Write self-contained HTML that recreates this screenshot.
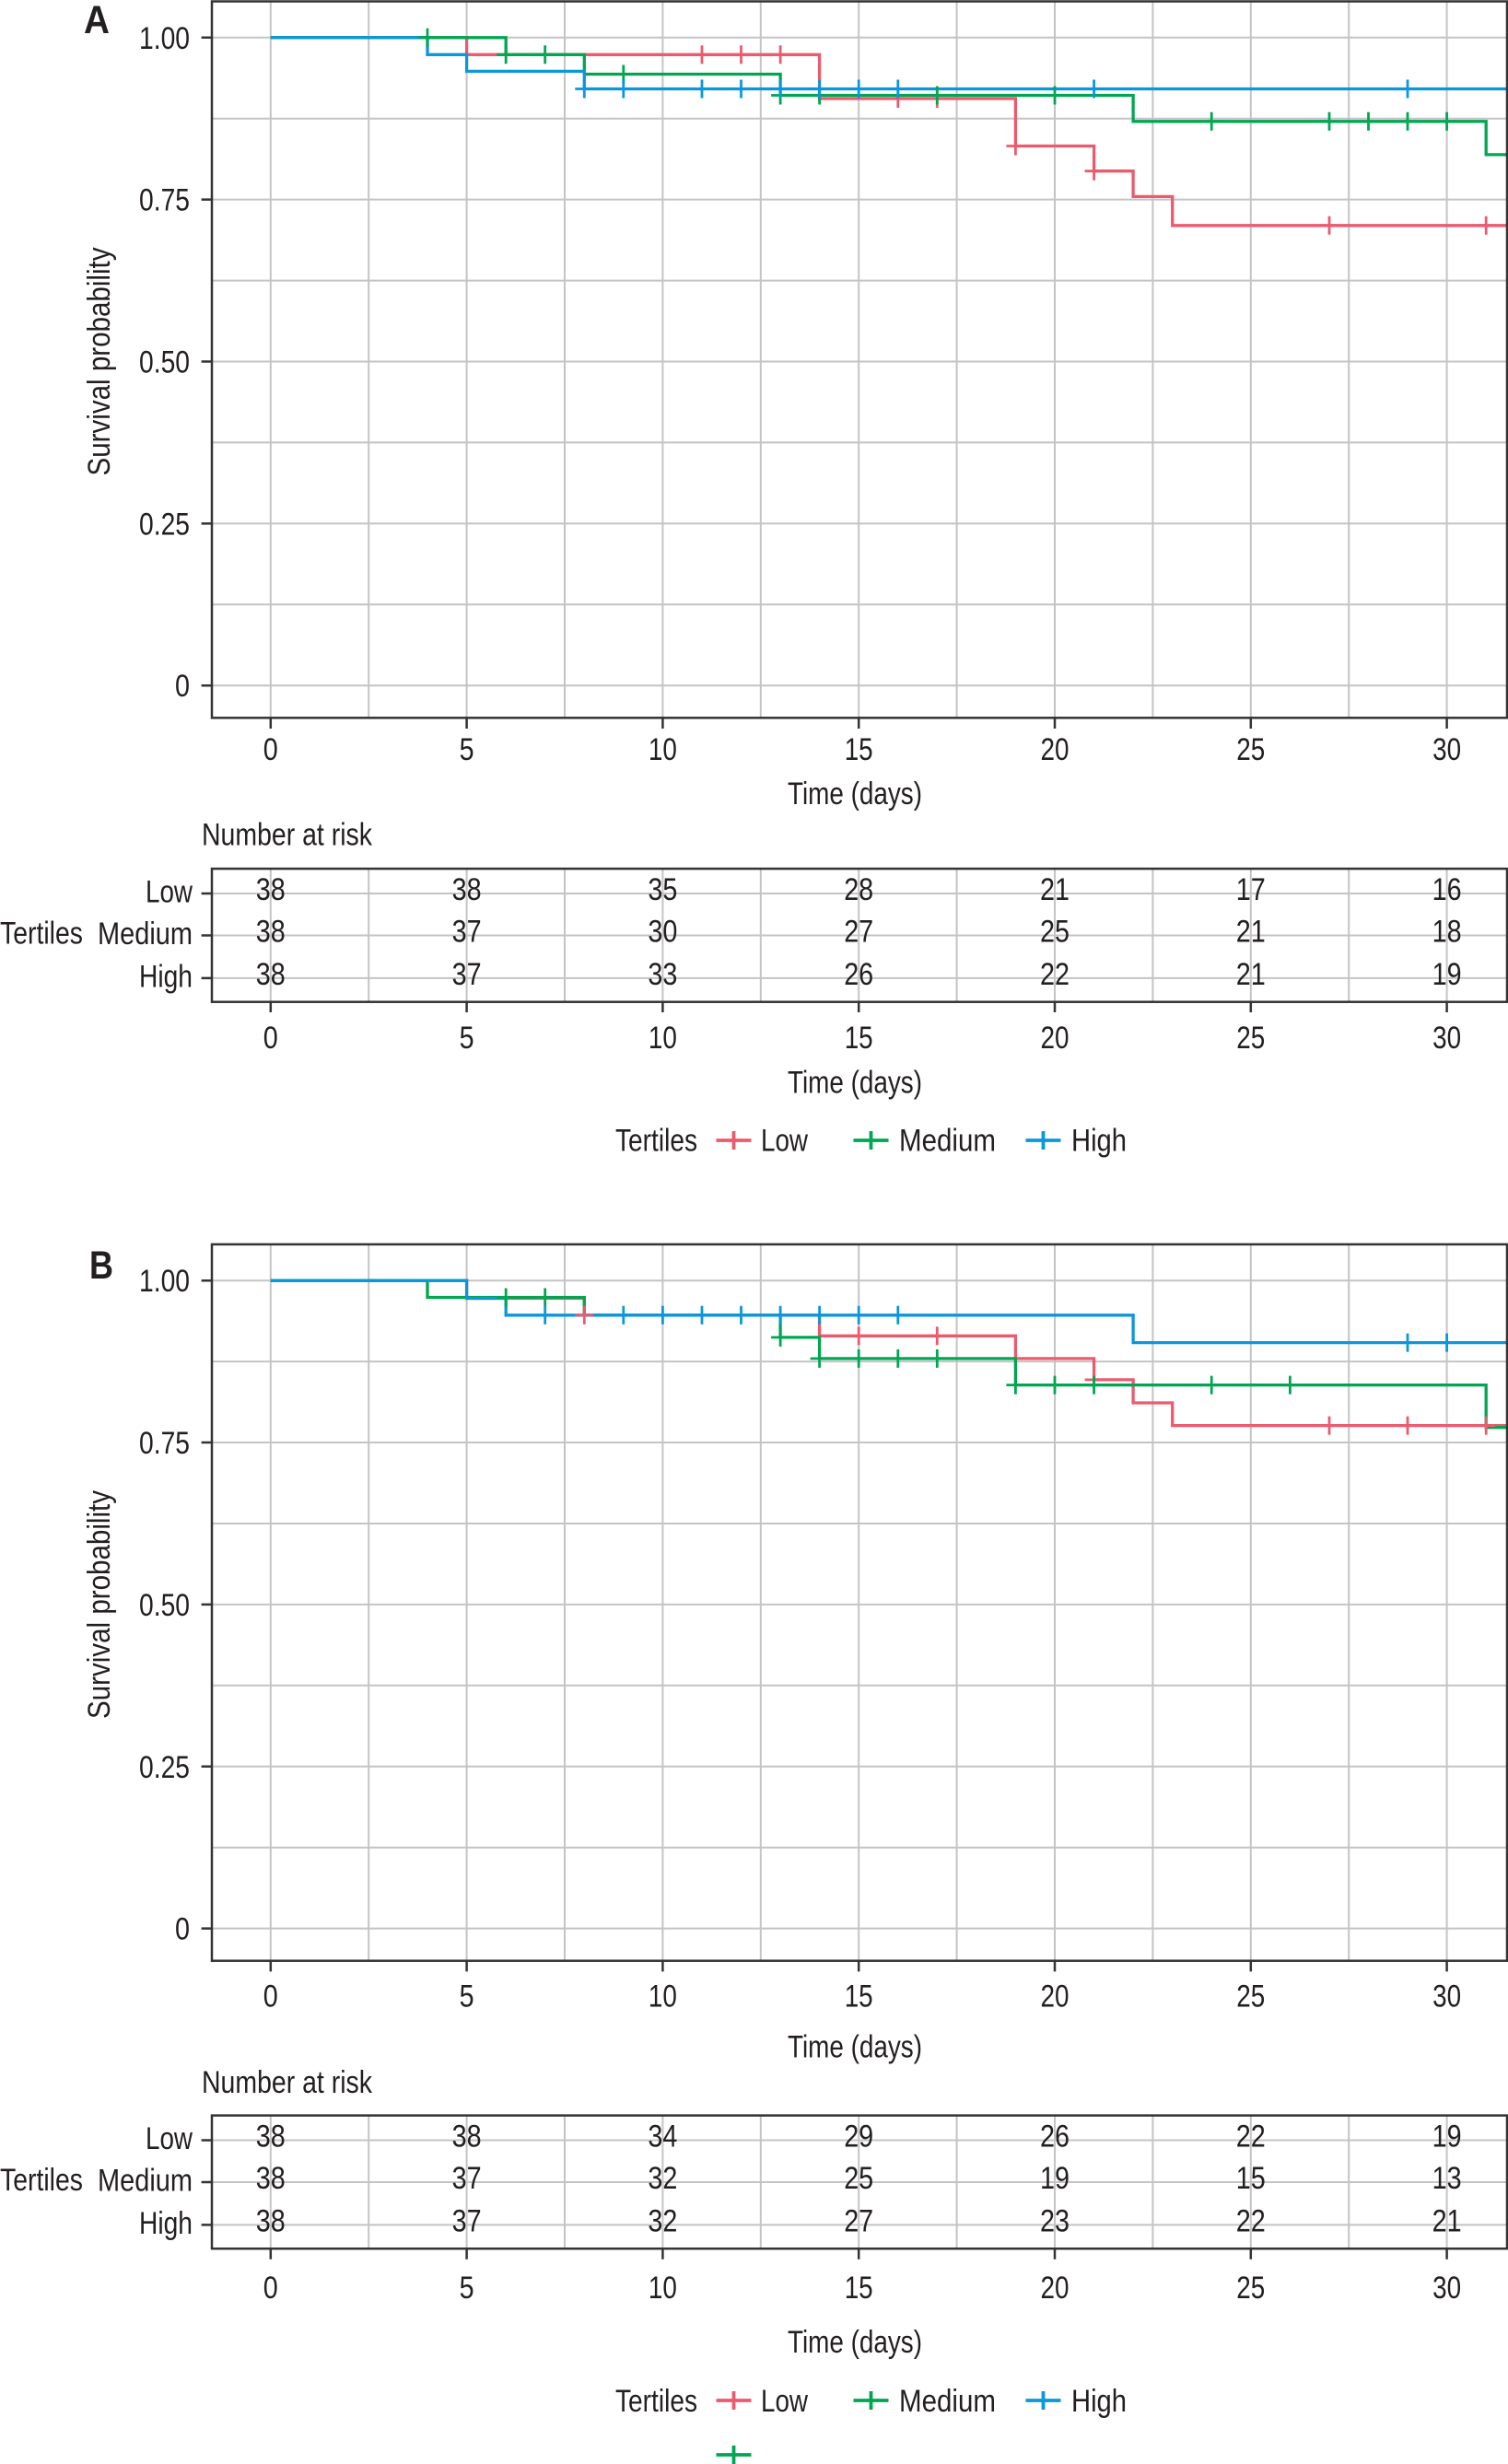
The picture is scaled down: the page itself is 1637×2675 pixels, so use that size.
<!DOCTYPE html>
<html><head><meta charset="utf-8"><style>
html,body{margin:0;padding:0;background:#fff;}
svg{display:block;}
text{font-family:"Liberation Sans Narrow","Liberation Sans",sans-serif;font-size:34px;fill:#231f20;}
.b{font-weight:bold;font-size:43px;font-family:"Liberation Sans",sans-serif;}
.g{stroke:#c4c4c4;stroke-width:2;fill:none;}
.k{stroke:#333;stroke-width:2.5;fill:none;}
.r{stroke:#EC5A6E;stroke-width:3.3;fill:none;}
.n{stroke:#00A651;stroke-width:3.3;fill:none;}
.u{stroke:#0A97DB;stroke-width:3.3;fill:none;}
.rc{stroke:#EC5A6E;stroke-width:2.8;fill:none;}
.nc{stroke:#00A651;stroke-width:2.8;fill:none;}
.uc{stroke:#0A97DB;stroke-width:2.8;fill:none;}
.lr{stroke:#EC5A6E;stroke-width:3.8;fill:none;}
.ln{stroke:#00A651;stroke-width:3.8;fill:none;}
.lu{stroke:#0A97DB;stroke-width:3.8;fill:none;}
</style></head><body>
<svg width="1637" height="2675" viewBox="0 0 1637 2675" xmlns="http://www.w3.org/2000/svg">
<defs>
<clipPath id="ca"><rect x="230" y="1.5" width="1406" height="777.8"/></clipPath>
<clipPath id="cb"><rect x="230" y="1350.9" width="1406" height="777.8"/></clipPath>
</defs>
<rect width="1637" height="2675" fill="#fff"/>

<!-- ================= PANEL A ================= -->
<text class="b" x="91" y="36" textLength="28" lengthAdjust="spacingAndGlyphs">A</text>
<path class="g" d="M293.8,1.5V779.3M400.2,1.5V779.3M506.6,1.5V779.3M613,1.5V779.3M719.4,1.5V779.3M825.8,1.5V779.3M932.2,1.5V779.3M1038.6,1.5V779.3M1145,1.5V779.3M1251.4,1.5V779.3M1357.8,1.5V779.3M1464.2,1.5V779.3M1570.6,1.5V779.3"/>
<path class="g" d="M230,40.8H1636M230,128.7H1636M230,216.6H1636M230,304.6H1636M230,392.5H1636M230,480.4H1636M230,568.4H1636M230,656.3H1636M230,744.2H1636"/>
<g clip-path="url(#ca)">
<path class="r" d="M293.8,40.8H506.6V59.3H889.6V107H1102.4V158.5H1187.6V185.7H1230.1V213.4H1272.7V244.8H1640"/>
<path class="n" d="M293.8,40.8H549.2V59.3H634.3V80.5H847.1V103.5H1230.1V131.8H1613.2V167.9H1640"/>
<path class="u" d="M293.8,40.8H464V59.3H506.6V77.4H634.3V96.5H1640"/>
<path class="rc" d="M752,59.3h20M762,49.3v20M794.5,59.3h20M804.5,49.3v20M837.1,59.3h20M847.1,49.3v20M964.8,107h20M974.8,97v20M1007.3,107h20M1017.3,97v20M1092.4,158.5h20M1102.4,148.5v20M1177.6,185.7h20M1187.6,175.7v20M1433,244.8h20M1443,234.8v20M1603.2,244.8h20M1613.2,234.8v20"/>
<path class="nc" d="M454,40.8h20M464,30.8v20M539.2,59.3h20M549.2,49.3v20M581.7,59.3h20M591.7,49.3v20M666.8,80.5h20M676.8,70.5v20M837.1,103.5h20M847.1,93.5v20M879.6,103.5h20M889.6,93.5v20M1007.3,103.5h20M1017.3,93.5v20M1135,103.5h20M1145,93.5v20M1305.2,131.8h20M1315.2,121.8v20M1433,131.8h20M1443,121.8v20M1475.5,131.8h20M1485.5,121.8v20M1518,131.8h20M1528,121.8v20M1560.6,131.8h20M1570.6,121.8v20"/>
<path class="uc" d="M624.3,96.5h20M634.3,86.5v20M666.8,96.5h20M676.8,86.5v20M752,96.5h20M762,86.5v20M794.5,96.5h20M804.5,86.5v20M837.1,96.5h20M847.1,86.5v20M879.6,96.5h20M889.6,86.5v20M922.2,96.5h20M932.2,86.5v20M964.8,96.5h20M974.8,86.5v20M1177.6,96.5h20M1187.6,86.5v20M1518,96.5h20M1528,86.5v20"/>
</g>
<rect class="k" x="230" y="1.5" width="1406" height="777.8"/>
<path class="k" d="M218.6,40.8H230M218.6,216.6H230M218.6,392.5H230M218.6,568.4H230M218.6,744.2H230"/>
<path class="k" d="M293.8,779.3V791M506.6,779.3V791M719.4,779.3V791M932.2,779.3V791M1145,779.3V791M1357.8,779.3V791M1570.6,779.3V791"/>
<g text-anchor="end">
<text x="206" y="52.8" textLength="55" lengthAdjust="spacingAndGlyphs">1.00</text>
<text x="206" y="228.6" textLength="55" lengthAdjust="spacingAndGlyphs">0.75</text>
<text x="206" y="404.5" textLength="55" lengthAdjust="spacingAndGlyphs">0.50</text>
<text x="206" y="580.4" textLength="55" lengthAdjust="spacingAndGlyphs">0.25</text>
<text x="206" y="756.2" textLength="16" lengthAdjust="spacingAndGlyphs">0</text>
</g>
<text transform="translate(119,392.5) rotate(-90)" text-anchor="middle" textLength="248" lengthAdjust="spacingAndGlyphs">Survival probability</text>
<g text-anchor="middle">
<text x="293.8" y="825" textLength="16" lengthAdjust="spacingAndGlyphs">0</text>
<text x="506.6" y="825" textLength="16" lengthAdjust="spacingAndGlyphs">5</text>
<text x="719.4" y="825" textLength="31" lengthAdjust="spacingAndGlyphs">10</text>
<text x="932.2" y="825" textLength="31" lengthAdjust="spacingAndGlyphs">15</text>
<text x="1145" y="825" textLength="31" lengthAdjust="spacingAndGlyphs">20</text>
<text x="1357.8" y="825" textLength="31" lengthAdjust="spacingAndGlyphs">25</text>
<text x="1570.6" y="825" textLength="31" lengthAdjust="spacingAndGlyphs">30</text>
<text x="928" y="873" textLength="146" lengthAdjust="spacingAndGlyphs">Time (days)</text>
</g>

<!-- risk table A -->
<text x="219" y="917.5" textLength="185" lengthAdjust="spacingAndGlyphs">Number at risk</text>
<path class="g" d="M293.8,943.1V1087.7M400.2,943.1V1087.7M506.6,943.1V1087.7M613,943.1V1087.7M719.4,943.1V1087.7M825.8,943.1V1087.7M932.2,943.1V1087.7M1038.6,943.1V1087.7M1145,943.1V1087.7M1251.4,943.1V1087.7M1357.8,943.1V1087.7M1464.2,943.1V1087.7M1570.6,943.1V1087.7"/>
<path class="g" d="M230,970H1636M230,1015.5H1636M230,1061.9H1636"/>
<rect class="k" x="230" y="943.1" width="1406" height="144.6"/>
<path class="k" d="M218.6,970H230M218.6,1015.5H230M218.6,1061.9H230"/>
<path class="k" d="M293.8,1087.7V1099M506.6,1087.7V1099M719.4,1087.7V1099M932.2,1087.7V1099M1145,1087.7V1099M1357.8,1087.7V1099M1570.6,1087.7V1099"/>
<g text-anchor="end">
<text x="209" y="979.5" textLength="51" lengthAdjust="spacingAndGlyphs">Low</text>
<text x="209" y="1025" textLength="103" lengthAdjust="spacingAndGlyphs">Medium</text>
<text x="209" y="1071.5" textLength="58" lengthAdjust="spacingAndGlyphs">High</text>
</g>
<text x="0" y="1024.5" textLength="90" lengthAdjust="spacingAndGlyphs">Tertiles</text>
<g text-anchor="middle">
<text x="293.8" y="977" textLength="32" lengthAdjust="spacingAndGlyphs">38</text>
<text x="506.6" y="977" textLength="32" lengthAdjust="spacingAndGlyphs">38</text>
<text x="719.4" y="977" textLength="32" lengthAdjust="spacingAndGlyphs">35</text>
<text x="932.2" y="977" textLength="32" lengthAdjust="spacingAndGlyphs">28</text>
<text x="1145" y="977" textLength="32" lengthAdjust="spacingAndGlyphs">21</text>
<text x="1357.8" y="977" textLength="32" lengthAdjust="spacingAndGlyphs">17</text>
<text x="1570.6" y="977" textLength="32" lengthAdjust="spacingAndGlyphs">16</text>
<text x="293.8" y="1022.5" textLength="32" lengthAdjust="spacingAndGlyphs">38</text>
<text x="506.6" y="1022.5" textLength="32" lengthAdjust="spacingAndGlyphs">37</text>
<text x="719.4" y="1022.5" textLength="32" lengthAdjust="spacingAndGlyphs">30</text>
<text x="932.2" y="1022.5" textLength="32" lengthAdjust="spacingAndGlyphs">27</text>
<text x="1145" y="1022.5" textLength="32" lengthAdjust="spacingAndGlyphs">25</text>
<text x="1357.8" y="1022.5" textLength="32" lengthAdjust="spacingAndGlyphs">21</text>
<text x="1570.6" y="1022.5" textLength="32" lengthAdjust="spacingAndGlyphs">18</text>
<text x="293.8" y="1069" textLength="32" lengthAdjust="spacingAndGlyphs">38</text>
<text x="506.6" y="1069" textLength="32" lengthAdjust="spacingAndGlyphs">37</text>
<text x="719.4" y="1069" textLength="32" lengthAdjust="spacingAndGlyphs">33</text>
<text x="932.2" y="1069" textLength="32" lengthAdjust="spacingAndGlyphs">26</text>
<text x="1145" y="1069" textLength="32" lengthAdjust="spacingAndGlyphs">22</text>
<text x="1357.8" y="1069" textLength="32" lengthAdjust="spacingAndGlyphs">21</text>
<text x="1570.6" y="1069" textLength="32" lengthAdjust="spacingAndGlyphs">19</text>
<text x="293.8" y="1138" textLength="16" lengthAdjust="spacingAndGlyphs">0</text>
<text x="506.6" y="1138" textLength="16" lengthAdjust="spacingAndGlyphs">5</text>
<text x="719.4" y="1138" textLength="31" lengthAdjust="spacingAndGlyphs">10</text>
<text x="932.2" y="1138" textLength="31" lengthAdjust="spacingAndGlyphs">15</text>
<text x="1145" y="1138" textLength="31" lengthAdjust="spacingAndGlyphs">20</text>
<text x="1357.8" y="1138" textLength="31" lengthAdjust="spacingAndGlyphs">25</text>
<text x="1570.6" y="1138" textLength="31" lengthAdjust="spacingAndGlyphs">30</text>
<text x="928" y="1186.5" textLength="146" lengthAdjust="spacingAndGlyphs">Time (days)</text>
</g>
<!-- legend A -->
<text x="668" y="1249.5" textLength="89" lengthAdjust="spacingAndGlyphs">Tertiles</text>
<path class="lr" d="M777.5,1238h38M796.5,1228v20"/>
<text x="826" y="1249.5" textLength="51" lengthAdjust="spacingAndGlyphs">Low</text>
<path class="ln" d="M926.5,1238h38M945.5,1228v20"/>
<text x="976" y="1249.5" textLength="105" lengthAdjust="spacingAndGlyphs">Medium</text>
<path class="lu" d="M1113.5,1238h38M1132.5,1228v20"/>
<text x="1163" y="1249.5" textLength="60" lengthAdjust="spacingAndGlyphs">High</text>

<!-- ================= PANEL B ================= -->
<text class="b" x="97" y="1388" textLength="26" lengthAdjust="spacingAndGlyphs">B</text>
<path class="g" d="M293.8,1350.9V2128.7M400.2,1350.9V2128.7M506.6,1350.9V2128.7M613,1350.9V2128.7M719.4,1350.9V2128.7M825.8,1350.9V2128.7M932.2,1350.9V2128.7M1038.6,1350.9V2128.7M1145,1350.9V2128.7M1251.4,1350.9V2128.7M1357.8,1350.9V2128.7M1464.2,1350.9V2128.7M1570.6,1350.9V2128.7"/>
<path class="g" d="M230,1390.2H1636M230,1478.1H1636M230,1566H1636M230,1654H1636M230,1741.9H1636M230,1829.8H1636M230,1917.8H1636M230,2005.7H1636M230,2093.6H1636"/>
<g clip-path="url(#cb)">
<path class="r" d="M293.8,1390.2H506.6V1409.5H634.3V1427.8H889.6V1450.3H1102.4V1474.9H1187.6V1497.9H1230.1V1523H1272.7V1547.6H1640"/>
<path class="n" d="M293.8,1390.2H464V1408.5H634.3V1427.8H847.1V1451.9H889.6V1474.9H1102.4V1503.6H1613.2V1549.7H1640"/>
<path class="u" d="M293.8,1390.2H506.6V1409.5H549.2V1427.8H1230.1V1457.6H1640"/>
<path class="rc" d="M624.3,1427.8h20M634.3,1417.8v20M922.2,1450.3h20M932.2,1440.3v20M1007.3,1450.3h20M1017.3,1440.3v20M1177.6,1497.9h20M1187.6,1487.9v20M1433,1547.6h20M1443,1537.6v20M1518,1547.6h20M1528,1537.6v20M1603.2,1547.6h20M1613.2,1537.6v20"/>
<path class="nc" d="M539.2,1408.5h20M549.2,1398.5v20M581.7,1408.5h20M591.7,1398.5v20M837.1,1451.9h20M847.1,1441.9v20M879.6,1474.9h20M889.6,1464.9v20M922.2,1474.9h20M932.2,1464.9v20M964.8,1474.9h20M974.8,1464.9v20M1007.3,1474.9h20M1017.3,1464.9v20M1092.4,1503.6h20M1102.4,1493.6v20M1135,1503.6h20M1145,1493.6v20M1177.6,1503.6h20M1187.6,1493.6v20M1305.2,1503.6h20M1315.2,1493.6v20M1390.4,1503.6h20M1400.4,1493.6v20"/>
<path class="uc" d="M581.7,1427.8h20M591.7,1417.8v20M666.8,1427.8h20M676.8,1417.8v20M709.4,1427.8h20M719.4,1417.8v20M752,1427.8h20M762,1417.8v20M794.5,1427.8h20M804.5,1417.8v20M837.1,1427.8h20M847.1,1417.8v20M879.6,1427.8h20M889.6,1417.8v20M922.2,1427.8h20M932.2,1417.8v20M964.8,1427.8h20M974.8,1417.8v20M1518,1457.6h20M1528,1447.6v20M1560.6,1457.6h20M1570.6,1447.6v20"/>
</g>
<rect class="k" x="230" y="1350.9" width="1406" height="777.8"/>
<path class="k" d="M218.6,1390.2H230M218.6,1566H230M218.6,1741.9H230M218.6,1917.8H230M218.6,2093.6H230"/>
<path class="k" d="M293.8,2128.7V2140.4M506.6,2128.7V2140.4M719.4,2128.7V2140.4M932.2,2128.7V2140.4M1145,2128.7V2140.4M1357.8,2128.7V2140.4M1570.6,2128.7V2140.4"/>
<g text-anchor="end">
<text x="206" y="1402.2" textLength="55" lengthAdjust="spacingAndGlyphs">1.00</text>
<text x="206" y="1578" textLength="55" lengthAdjust="spacingAndGlyphs">0.75</text>
<text x="206" y="1753.9" textLength="55" lengthAdjust="spacingAndGlyphs">0.50</text>
<text x="206" y="1929.8" textLength="55" lengthAdjust="spacingAndGlyphs">0.25</text>
<text x="206" y="2105.6" textLength="16" lengthAdjust="spacingAndGlyphs">0</text>
</g>
<text transform="translate(119,1742) rotate(-90)" text-anchor="middle" textLength="248" lengthAdjust="spacingAndGlyphs">Survival probability</text>
<g text-anchor="middle">
<text x="293.8" y="2178.5" textLength="16" lengthAdjust="spacingAndGlyphs">0</text>
<text x="506.6" y="2178.5" textLength="16" lengthAdjust="spacingAndGlyphs">5</text>
<text x="719.4" y="2178.5" textLength="31" lengthAdjust="spacingAndGlyphs">10</text>
<text x="932.2" y="2178.5" textLength="31" lengthAdjust="spacingAndGlyphs">15</text>
<text x="1145" y="2178.5" textLength="31" lengthAdjust="spacingAndGlyphs">20</text>
<text x="1357.8" y="2178.5" textLength="31" lengthAdjust="spacingAndGlyphs">25</text>
<text x="1570.6" y="2178.5" textLength="31" lengthAdjust="spacingAndGlyphs">30</text>
<text x="928" y="2233.5" textLength="146" lengthAdjust="spacingAndGlyphs">Time (days)</text>
</g>

<!-- risk table B -->
<text x="219" y="2272" textLength="185" lengthAdjust="spacingAndGlyphs">Number at risk</text>
<path class="g" d="M293.8,2296.6V2441.2M400.2,2296.6V2441.2M506.6,2296.6V2441.2M613,2296.6V2441.2M719.4,2296.6V2441.2M825.8,2296.6V2441.2M932.2,2296.6V2441.2M1038.6,2296.6V2441.2M1145,2296.6V2441.2M1251.4,2296.6V2441.2M1357.8,2296.6V2441.2M1464.2,2296.6V2441.2M1570.6,2296.6V2441.2"/>
<path class="g" d="M230,2323.5H1636M230,2369H1636M230,2415.4H1636"/>
<rect class="k" x="230" y="2296.6" width="1406" height="144.6"/>
<path class="k" d="M218.6,2323.5H230M218.6,2369H230M218.6,2415.4H230"/>
<path class="k" d="M293.8,2441.2V2452.7M506.6,2441.2V2452.7M719.4,2441.2V2452.7M932.2,2441.2V2452.7M1145,2441.2V2452.7M1357.8,2441.2V2452.7M1570.6,2441.2V2452.7"/>
<g text-anchor="end">
<text x="209" y="2333" textLength="51" lengthAdjust="spacingAndGlyphs">Low</text>
<text x="209" y="2378.5" textLength="103" lengthAdjust="spacingAndGlyphs">Medium</text>
<text x="209" y="2425" textLength="58" lengthAdjust="spacingAndGlyphs">High</text>
</g>
<text x="0" y="2378" textLength="90" lengthAdjust="spacingAndGlyphs">Tertiles</text>
<g text-anchor="middle">
<text x="293.8" y="2330.5" textLength="32" lengthAdjust="spacingAndGlyphs">38</text>
<text x="506.6" y="2330.5" textLength="32" lengthAdjust="spacingAndGlyphs">38</text>
<text x="719.4" y="2330.5" textLength="32" lengthAdjust="spacingAndGlyphs">34</text>
<text x="932.2" y="2330.5" textLength="32" lengthAdjust="spacingAndGlyphs">29</text>
<text x="1145" y="2330.5" textLength="32" lengthAdjust="spacingAndGlyphs">26</text>
<text x="1357.8" y="2330.5" textLength="32" lengthAdjust="spacingAndGlyphs">22</text>
<text x="1570.6" y="2330.5" textLength="32" lengthAdjust="spacingAndGlyphs">19</text>
<text x="293.8" y="2376" textLength="32" lengthAdjust="spacingAndGlyphs">38</text>
<text x="506.6" y="2376" textLength="32" lengthAdjust="spacingAndGlyphs">37</text>
<text x="719.4" y="2376" textLength="32" lengthAdjust="spacingAndGlyphs">32</text>
<text x="932.2" y="2376" textLength="32" lengthAdjust="spacingAndGlyphs">25</text>
<text x="1145" y="2376" textLength="32" lengthAdjust="spacingAndGlyphs">19</text>
<text x="1357.8" y="2376" textLength="32" lengthAdjust="spacingAndGlyphs">15</text>
<text x="1570.6" y="2376" textLength="32" lengthAdjust="spacingAndGlyphs">13</text>
<text x="293.8" y="2422.4" textLength="32" lengthAdjust="spacingAndGlyphs">38</text>
<text x="506.6" y="2422.4" textLength="32" lengthAdjust="spacingAndGlyphs">37</text>
<text x="719.4" y="2422.4" textLength="32" lengthAdjust="spacingAndGlyphs">32</text>
<text x="932.2" y="2422.4" textLength="32" lengthAdjust="spacingAndGlyphs">27</text>
<text x="1145" y="2422.4" textLength="32" lengthAdjust="spacingAndGlyphs">23</text>
<text x="1357.8" y="2422.4" textLength="32" lengthAdjust="spacingAndGlyphs">22</text>
<text x="1570.6" y="2422.4" textLength="32" lengthAdjust="spacingAndGlyphs">21</text>
<text x="293.8" y="2495" textLength="16" lengthAdjust="spacingAndGlyphs">0</text>
<text x="506.6" y="2495" textLength="16" lengthAdjust="spacingAndGlyphs">5</text>
<text x="719.4" y="2495" textLength="31" lengthAdjust="spacingAndGlyphs">10</text>
<text x="932.2" y="2495" textLength="31" lengthAdjust="spacingAndGlyphs">15</text>
<text x="1145" y="2495" textLength="31" lengthAdjust="spacingAndGlyphs">20</text>
<text x="1357.8" y="2495" textLength="31" lengthAdjust="spacingAndGlyphs">25</text>
<text x="1570.6" y="2495" textLength="31" lengthAdjust="spacingAndGlyphs">30</text>
<text x="928" y="2554" textLength="146" lengthAdjust="spacingAndGlyphs">Time (days)</text>
</g>
<!-- legend B -->
<text x="668" y="2618" textLength="89" lengthAdjust="spacingAndGlyphs">Tertiles</text>
<path class="lr" d="M777.5,2606h38M796.5,2596v20"/>
<text x="826" y="2618" textLength="51" lengthAdjust="spacingAndGlyphs">Low</text>
<path class="ln" d="M926.5,2606h38M945.5,2596v20"/>
<text x="976" y="2618" textLength="105" lengthAdjust="spacingAndGlyphs">Medium</text>
<path class="lu" d="M1113.5,2606h38M1132.5,2596v20"/>
<text x="1163" y="2618" textLength="60" lengthAdjust="spacingAndGlyphs">High</text>
<path class="ln" d="M777.5,2665h38M796.5,2655v22"/>
</svg>
</body></html>
